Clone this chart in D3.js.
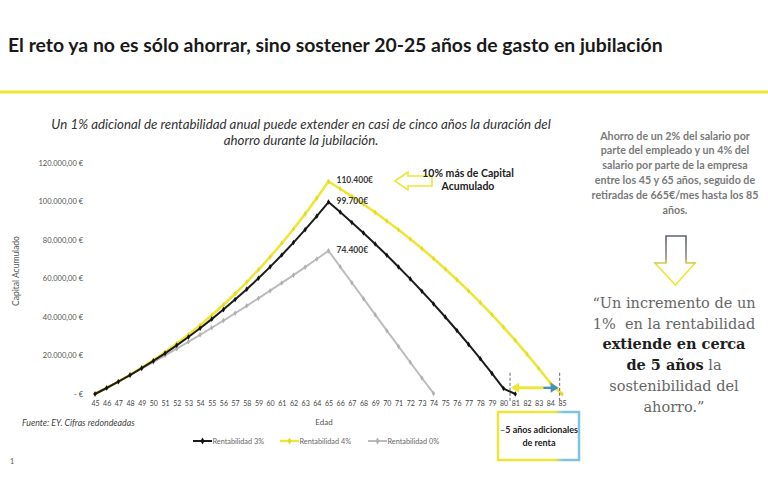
<!DOCTYPE html>
<html>
<head>
<meta charset="utf-8">
<script src="https://cdn.jsdelivr.net/npm/d3@7"></script>
<style>
  html, body { margin: 0; padding: 0; background: #fff; }
  svg { display: block; font-family: Lato, "Open Sans", sans-serif; }
</style>
</head>
<body>
<div id="container"></div>
<script>
// Edad (x axis categories)
var ages = [45, 46, 47, 48, 49, 50, 51, 52, 53, 54, 55, 56, 57, 58, 59, 60, 61, 62, 63, 64, 65,
            66, 67, 68, 69, 70, 71, 72, 73, 74, 75, 76, 77, 78, 79, 80, 81, 82, 83, 84, 85];

// Capital acumulado (null = savings already exhausted)
var rent3 = [0, 3114, 6384, 9809, 13421, 17189, 21144, 25286, 29614, 34161, 38894, 43845, 49077,
             54464, 60132, 66048, 72214, 78660, 85386, 92393, 99700,
             94491, 89126, 83600, 77908, 72045, 66006, 59786, 53380, 46781, 39984, 32984, 25774,
             18347, 10697, 2818, 0, null, null, null, null];
var rent4 = [0, 3131, 6450, 9972, 13698, 17628, 21776, 26175, 30825, 35725, 40891, 46354, 52100,
             58158, 64530, 71230, 78306, 85742, 93554, 101758, 110400,
             106616, 102681, 98588, 94332, 89905, 85301, 80513, 75534, 70355, 64969, 59368, 53543,
             47485, 41184, 34631, 27816, 20729, 13358, 5692, 0];
var rent0 = [0, 3217, 6477, 9801, 13169, 16579, 20032, 23549, 27131, 30755, 34423, 38154, 41950,
             45811, 49714, 53661, 57693, 61768, 65907, 70132, 74400,
             66100, 57800, 49500, 41200, 32900, 24700, 16500, 8300, 300,
             null, null, null, null, null, null, null, null, null, null, null];

var yTicks = [0, 20000, 40000, 60000, 80000, 100000, 120000];
var seriesNames = ["Rentabilidad 3%", "Rentabilidad 4%", "Rentabilidad 0%"];
var seriesColors = ["#1c1c1c", "#eee637", "#bcbcbc"];
var peakLabels = ["99.700€", "110.400€", "74.400€"];

var width = 768;
var height = 479;

var svg = d3.select("#container")
    .append("svg")
    .attr("width", width)
    .attr("height", height);

var defs = svg.append("defs");
var g1 = defs.append("linearGradient").attr("id", "arrowGrad")
    .attr("x1", 0).attr("y1", 0).attr("x2", 0).attr("y2", 1);
g1.append("stop").attr("offset", "0%").attr("stop-color", "#5b6470");
g1.append("stop").attr("offset", "45%").attr("stop-color", "#8a8f78");
g1.append("stop").attr("offset", "60%").attr("stop-color", "#eee637");
g1.append("stop").attr("offset", "100%").attr("stop-color", "#eee637");
var g2 = defs.append("linearGradient").attr("id", "boxGrad")
    .attr("x1", 0).attr("y1", 0).attr("x2", 1).attr("y2", 0);
g2.append("stop").attr("offset", "0%").attr("stop-color", "#eee637");
g2.append("stop").attr("offset", "70%").attr("stop-color", "#eee637");
g2.append("stop").attr("offset", "80%").attr("stop-color", "#7fc3e0");
g2.append("stop").attr("offset", "100%").attr("stop-color", "#7fc3e0");

// Title + yellow rule
svg.append("text")
    .attr("x", 8).attr("y", 52)
    .attr("font-size", 19.4).attr("font-weight", 700).attr("fill", "#1a1a1a")
    .text("El reto ya no es sólo ahorrar, sino sostener 20-25 años de gasto en jubilación");

svg.append("line")
    .attr("x1", 0).attr("x2", width).attr("y1", 92).attr("y2", 92)
    .attr("stroke", "#efe82e").attr("stroke-width", 3);

// Subtitle
var sub = svg.append("text")
    .attr("font-size", 13.3).attr("font-style", "italic").attr("fill", "#333")
    .attr("text-anchor", "middle");
sub.append("tspan").attr("x", 301).attr("y", 129)
    .text("Un 1% adicional de rentabilidad anual puede extender en casi de cinco años la duración del");
sub.append("tspan").attr("x", 301).attr("y", 145)
    .text("ahorro durante la jubilación.");

// Scales
var x = d3.scaleLinear().domain([45, 85]).range([95, 562]);
var y = d3.scaleLinear().domain([0, 120000]).range([394, 163]);

var es = d3.formatLocale({ decimal: ",", thousands: ".", grouping: [3], currency: ["", " €"] });
var fmt = es.format(",.2f");

// Y axis
var yAxis = svg.append("g")
    .attr("transform", "translate(83,0)")
    .call(d3.axisLeft(y).tickValues(yTicks).tickSize(0).tickPadding(0)
        .tickFormat(function(d) { return d === 0 ? "-  €" : fmt(d) + " €"; }));
yAxis.select(".domain").remove();
yAxis.selectAll("text").attr("font-size", 7.5).attr("fill", "#555").attr("font-family", "Lato");

svg.append("text")
    .attr("transform", "translate(19,271) rotate(-90)")
    .attr("text-anchor", "middle").attr("font-size", 8.5).attr("fill", "#555")
    .text("Capital Acumulado");

// X axis
var xAxis = svg.append("g")
    .attr("transform", "translate(0,399)")
    .call(d3.axisBottom(x).tickValues(ages).tickSize(0).tickPadding(2).tickFormat(d3.format("d")));
xAxis.select(".domain").remove();
xAxis.selectAll("text").attr("font-size", 7).attr("fill", "#444").attr("font-family", "Lato");

svg.append("text")
    .attr("x", 324).attr("y", 425).attr("text-anchor", "middle")
    .attr("font-size", 8).attr("fill", "#555").text("Edad");

svg.append("text")
    .attr("x", 22).attr("y", 426)
    .attr("font-size", 8.8).attr("font-style", "italic").attr("fill", "#444")
    .text("Fuente: EY. Cifras redondeadas");

// Lines
var series = [rent3, rent4, rent0];
var line = d3.line()
    .defined(function(d) { return d != null; })
    .x(function(d, i) { return x(ages[i]); })
    .y(function(d) { return y(d); });

var order = [2, 1, 0]; // gray under, black on top
order.forEach(function(k) {
    var vals = series[k];
    svg.append("path")
        .datum(vals)
        .attr("fill", "none")
        .attr("stroke", seriesColors[k])
        .attr("stroke-width", k === 1 ? 2.6 : 2)
        .attr("stroke-linejoin", "round")
        .attr("d", line);

    svg.append("g").selectAll("path")
        .data(vals.map(function(v, i) { return { v: v, a: ages[i] }; })
                  .filter(function(d) { return d.v != null; }))
        .enter()
        .append("path")
        .attr("transform", function(d) { return "translate(" + x(d.a) + "," + y(d.v) + ")"; })
        .attr("d", d3.symbol().type(d3.symbolDiamond).size(9))
        .attr("fill", k === 0 ? "#111" : (k === 1 ? "#e3db2a" : "#b0b0b0"));
});

// Peak labels at 65
series.forEach(function(vals, k) {
    var i = ages.indexOf(65);
    svg.append("text")
        .attr("x", x(65) + 8).attr("y", y(vals[i]) + 2)
        .attr("font-size", 8.5).attr("font-weight", 700).attr("fill", "#3a3a3a")
        .text(peakLabels[k]);
});

// "10% más de Capital Acumulado" with hollow arrow
svg.append("path")
    .attr("d", "M395,181 L408,172 L408,176 L432,176 L432,186 L408,186 L408,190 Z")
    .attr("fill", "#fff").attr("stroke", "#eee637").attr("stroke-width", 1.6);
var note = svg.append("text")
    .attr("text-anchor", "middle").attr("font-size", 10.5).attr("font-weight", 700).attr("fill", "#222");
note.append("tspan").attr("x", 468).attr("y", 177).text("10% más de Capital");
note.append("tspan").attr("x", 468).attr("y", 190).text("Acumulado");

// End-of-savings markers and double arrow
[80.55, 84.8].forEach(function(a) {
    svg.append("line")
        .attr("x1", x(a)).attr("x2", x(a)).attr("y1", y(11000)).attr("y2", y(-4000))
        .attr("stroke", "#666").attr("stroke-width", 1).attr("stroke-dasharray", "3,2");
});
var ay = y(3200);
svg.append("line")
    .attr("x1", x(80.55) + 6).attr("x2", x(83.4)).attr("y1", ay).attr("y2", ay)
    .attr("stroke", "#eee637").attr("stroke-width", 3);
svg.append("line")
    .attr("x1", x(83.4)).attr("x2", x(84.8) - 6).attr("y1", ay).attr("y2", ay)
    .attr("stroke", "#4a8fb8").attr("stroke-width", 2.4);
svg.append("path")
    .attr("d", "M" + (x(80.55) + 1) + "," + ay + " l8,-5 l0,10 Z").attr("fill", "#eee637");
svg.append("path")
    .attr("d", "M" + (x(84.8) - 1) + "," + ay + " l-8,-5 l0,10 Z").attr("fill", "#4a8fb8");

// Box "5 años adicionales de renta"
svg.append("rect")
    .attr("x", 498).attr("y", 412).attr("width", 81).attr("height", 48)
    .attr("fill", "#fff").attr("stroke", "url(#boxGrad)").attr("stroke-width", 2.5);
var boxText = svg.append("text")
    .attr("text-anchor", "middle").attr("font-size", 9).attr("font-weight", 700).attr("fill", "#222");
var bl1 = boxText.append("tspan").attr("x", 539).attr("y", 433);
bl1.append("tspan").attr("fill", "#4a6a90").text("–");
bl1.append("tspan").text("5 años adicionales");
boxText.append("tspan").attr("x", 539).attr("y", 446).text("de renta");

// Legend
var legend = svg.append("g").attr("transform", "translate(0,441)");
var legendX = [193, 280, 368];
seriesNames.forEach(function(name, k) {
    var lg = legend.append("g").attr("transform", "translate(" + legendX[k] + ",0)");
    lg.append("line").attr("x1", 0).attr("x2", 19).attr("y1", 0).attr("y2", 0)
        .attr("stroke", seriesColors[k]).attr("stroke-width", k === 1 ? 2.4 : 2);
    lg.append("path").attr("transform", "translate(9.5,0)")
        .attr("d", d3.symbol().type(d3.symbolDiamond).size(14))
        .attr("fill", k === 0 ? "#111" : (k === 1 ? "#e3db2a" : "#b0b0b0"));
    lg.append("text").attr("x", 19.5).attr("y", 2.5)
        .attr("font-size", 7.3).attr("fill", "#666").text(name);
});

// Right-hand explanation
var info = ["Ahorro de un 2% del salario por",
            "parte del empleado y un 4% del",
            "salario por parte de la empresa",
            "entre los 45 y 65 años, seguido de",
            "retiradas de 665€/mes hasta los 85",
            "años."];
var infoText = svg.append("text")
    .attr("text-anchor", "middle").attr("font-size", 10.7).attr("font-weight", 700).attr("fill", "#7a7a7a");
info.forEach(function(t, i) {
    infoText.append("tspan").attr("x", 675).attr("y", 139.5 + i * 14.8).text(t);
});

// Down arrow
svg.append("path")
    .attr("d", "M666,236 L686,236 L686,263 L695,263 L675.5,285 L655,263 L666,263 Z")
    .attr("fill", "#fff").attr("stroke", "url(#arrowGrad)").attr("stroke-width", 1.6);

// Quote
var quote = [
    [["“Un incremento de un", false]],
    [["1%\u00a0 en la rentabilidad", false]],
    [["extiende en cerca", true]],
    [["de 5 años", true], [" la", false]],
    [["sostenibilidad del", false]],
    [["ahorro.”", false]]
];
quote.forEach(function(segs, i) {
    var t = svg.append("text")
        .attr("x", 674).attr("y", 308 + i * 20.7)
        .attr("text-anchor", "middle")
        .attr("font-family", "'DejaVu Serif', serif").attr("font-size", 14.5);
    segs.forEach(function(s) {
        t.append("tspan")
            .attr("font-weight", s[1] ? 700 : 400)
            .attr("fill", s[1] ? "#1e1e1e" : "#666")
            .text(s[0]);
    });
});

svg.append("text").attr("x", 10).attr("y", 464)
    .attr("font-size", 7).attr("fill", "#555").text("1");
</script>
</body>
</html>
